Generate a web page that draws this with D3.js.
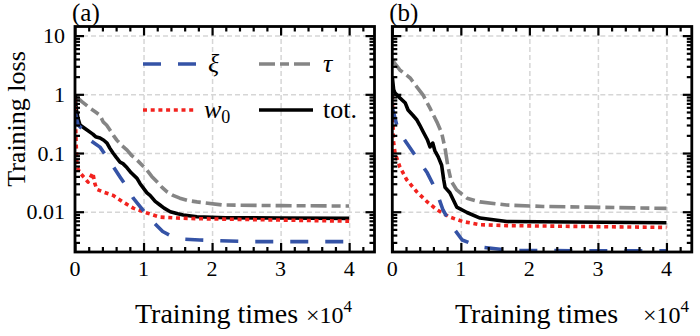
<!DOCTYPE html>
<html>
<head>
<meta charset="utf-8">
<script src="https://cdn.jsdelivr.net/npm/d3@7"></script>
<style>
    body { margin: 0; background: #fff; }
    svg { display: block; }
    text { font-family: "Liberation Serif", "Times New Roman", serif; fill: #000; }
</style>
</head>
<body>
<script>
    // x in units of 1e4 training times, y = training loss
    var xTicks = [0, 1, 2, 3, 4];
    var yTicks = [0.01, 0.1, 1, 10];
    var yTickLabels = ["0.01", "0.1", "1", "10"];

    // panel (a)
    var xiA = [[0, 0.5], [0.044, 0.3], [0.175, 0.22], [0.22, 0.166], [0.365, 0.126], [0.467, 0.085], [0.56, 0.058],
        [0.657, 0.039], [0.76, 0.026], [0.85, 0.017], [0.95, 0.0122], [1.07, 0.0082], [1.17, 0.0062], [1.28, 0.0046],
        [1.43, 0.0037], [1.6, 0.0034], [1.82, 0.0033], [2.5, 0.0031], [4, 0.0031]];
    var tauA = [[0, 0.95], [0.1, 0.75], [0.22, 0.58], [0.3, 0.5], [0.365, 0.44], [0.41, 0.34], [0.46, 0.3], [0.51, 0.246],
        [0.56, 0.2], [0.61, 0.166], [0.68, 0.135], [0.76, 0.112], [0.83, 0.09], [0.905, 0.076], [0.98, 0.062], [1.05, 0.051],
        [1.12, 0.04], [1.2, 0.032], [1.27, 0.026], [1.34, 0.022], [1.43, 0.019], [1.53, 0.017], [1.65, 0.0155],
        [1.78, 0.0147], [2.16, 0.013], [3, 0.0127], [4, 0.0125]];
    var w0A = [[0, 0.85], [0.008, 0.34], [0.015, 0.167], [0.03, 0.058], [0.073, 0.046], [0.19, 0.032], [0.26, 0.046],
        [0.29, 0.03], [0.32, 0.024], [0.41, 0.0217], [0.555, 0.019], [0.7, 0.0147], [0.85, 0.0115], [1.05, 0.0095],
        [1.24, 0.0081], [1.49, 0.0078], [1.78, 0.0076], [4, 0.0069]];
    var totA = [[0, 1.0], [0.02, 0.55], [0.044, 0.39], [0.073, 0.3], [0.15, 0.26], [0.26, 0.21], [0.3, 0.19], [0.365, 0.18],
        [0.42, 0.165], [0.467, 0.148], [0.51, 0.12], [0.555, 0.1], [0.6, 0.085], [0.657, 0.07], [0.7, 0.066], [0.76, 0.056],
        [0.82, 0.046], [0.905, 0.037], [0.95, 0.03], [0.99, 0.026], [1.05, 0.021], [1.095, 0.019], [1.17, 0.015],
        [1.24, 0.013], [1.3, 0.0115], [1.39, 0.01], [1.5, 0.0092], [1.58, 0.0088], [1.78, 0.0082], [2.2, 0.0079],
        [3, 0.0078], [4, 0.0077]];

    // panel (b)
    var xiB = [[0, 0.6], [0.083, 0.247], [0.21, 0.148], [0.36, 0.082], [0.51, 0.046], [0.59, 0.03], [0.65, 0.021],
        [0.74, 0.0107], [0.88, 0.0055], [1.02, 0.0033], [1.28, 0.0025], [1.76, 0.00218], [4, 0.00215]];
    var tauB = [[0, 3.84], [0.11, 2.6], [0.26, 1.9], [0.36, 1.33], [0.45, 0.97], [0.55, 0.58], [0.65, 0.34], [0.72, 0.22],
        [0.77, 0.12], [0.81, 0.06], [0.86, 0.033], [0.94, 0.0235], [1.09, 0.017], [1.28, 0.0147], [1.67, 0.013],
        [2.2, 0.0123], [4, 0.0114]];
    var w0B = [[0, 0.97], [0.01, 0.365], [0.015, 0.166], [0.04, 0.1], [0.11, 0.058], [0.21, 0.035], [0.36, 0.0217],
        [0.51, 0.0147], [0.65, 0.0108], [0.84, 0.0081], [1.03, 0.0068], [1.28, 0.006], [1.67, 0.0058], [4, 0.0054]];
    var totB = [[0, 1.97], [0.02, 1.2], [0.04, 1.05], [0.11, 0.87], [0.19, 0.71], [0.23, 0.54], [0.3, 0.44], [0.36, 0.365],
        [0.4, 0.3], [0.45, 0.23], [0.51, 0.17], [0.55, 0.127], [0.59, 0.148], [0.62, 0.11], [0.67, 0.086], [0.72, 0.062],
        [0.75, 0.035], [0.77, 0.026], [0.84, 0.021], [0.94, 0.012], [1.09, 0.0097], [1.28, 0.0078], [1.67, 0.0068],
        [4, 0.0065]];

    var styles = {
        xi: {color: "#3553a6", dash: "18,17"},
        tau: {color: "#858585", dash: "16,5,9,5"},
        w0: {color: "#f2231f", dash: "4,3.7"},
        tot: {color: "#000000", dash: null}
    };

    var svg = d3.select("body").append("svg")
        .attr("width", 700)
        .attr("height", 336);

    var plotTop = 26.5, plotBottom = 252, plotW = 299.5;

    var y = d3.scaleLog()
        .domain([0.00206, 14.3])
        .range([plotBottom, plotTop]);

    var minorY = [];
    [0.001, 0.01, 0.1, 1, 10].forEach(function(dec) {
        for (var k = 2; k <= 9; k++) {
            var v = dec * k;
            if (v > y.domain()[0] && v < y.domain()[1]) minorY.push(v);
        }
    });
    var minorX = d3.range(0, 4.37, 0.2).filter(function(v) { return Math.abs(v - Math.round(v)) > 1e-6; });

    function drawPanel(left, series, label, showYLabels, xLabelX, x10X) {
        var x = d3.scaleLinear()
            .domain([0, 4.37])
            .range([left, left + plotW]);

        var g = svg.append("g");
        var id = "clip" + label.replace(/\W/g, "");
        g.append("clipPath").attr("id", id)
            .append("rect")
            .attr("x", left).attr("y", plotTop)
            .attr("width", plotW).attr("height", plotBottom - plotTop);

        //grid
        var gx = g.append("g")
            .attr("transform", "translate(0," + plotBottom + ")")
            .call(d3.axisBottom(x).tickValues([1, 2, 3, 4]).tickSize(-(plotBottom - plotTop)).tickFormat(""));
        var gy = g.append("g")
            .attr("transform", "translate(" + left + ",0)")
            .call(d3.axisLeft(y).tickValues(yTicks).tickSize(-plotW).tickFormat(""));
        [gx, gy].forEach(function(a) {
            a.select(".domain").remove();
            a.selectAll("line")
                .attr("stroke", "#d6d6d6")
                .attr("stroke-width", 1.5)
                .attr("stroke-dasharray", "5,3");
        });

        //data
        var line = d3.line()
            .x(function(d) { return x(d[0]); })
            .y(function(d) { return y(d[1]); });

        var lines = g.append("g").attr("clip-path", "url(#" + id + ")");
        series.forEach(function(s) {
            lines.append("path")
                .attr("d", line(s.data))
                .attr("fill", "none")
                .attr("stroke", styles[s.key].color)
                .attr("stroke-width", 3.6)
                .attr("stroke-linejoin", "round")
                .attr("stroke-dasharray", styles[s.key].dash);
        });

        //ticks on all four sides, pointing inward
        var axes = [
            [d3.axisBottom(x), "translate(0," + plotBottom + ")", xTicks, minorX],
            [d3.axisTop(x), "translate(0," + plotTop + ")", xTicks, minorX],
            [d3.axisLeft(y), "translate(" + left + ",0)", yTicks, minorY],
            [d3.axisRight(y), "translate(" + (left + plotW) + ",0)", yTicks, minorY]
        ];
        axes.forEach(function(a) {
            var maj = g.append("g").attr("transform", a[1])
                .call(a[0].tickValues(a[2]).tickSize(-9).tickFormat(""));
            var mnr = g.append("g").attr("transform", a[1])
                .call(a[0].tickValues(a[3]).tickSize(-5).tickFormat(""));
            [maj, mnr].forEach(function(s) {
                s.select(".domain").remove();
                s.selectAll("line").attr("stroke", "#000").attr("stroke-width", 2.2);
            });
        });

        //frame
        g.append("rect")
            .attr("x", left).attr("y", plotTop)
            .attr("width", plotW).attr("height", plotBottom - plotTop)
            .attr("fill", "none")
            .attr("stroke", "#000")
            .attr("stroke-width", 2.8);

        //tick labels
        g.append("g").selectAll("text")
            .data(xTicks)
            .enter()
            .append("text")
            .attr("x", function(d) { return x(d); })
            .attr("y", 276)
            .attr("text-anchor", "middle")
            .style("font-size", "22px")
            .text(function(d) { return d; });

        if (showYLabels) {
            g.append("g").selectAll("text")
                .data(yTicks)
                .enter()
                .append("text")
                .attr("x", left - 10)
                .attr("y", function(d) { return y(d); })
                .attr("dy", "0.34em")
                .attr("text-anchor", "end")
                .style("font-size", "22px")
                .text(function(d, i) { return yTickLabels[i]; });
        }

        //x label
        g.append("text")
            .attr("x", xLabelX)
            .attr("y", 323)
            .style("font-size", "28px")
            .text("Training times");

        var t = g.append("text")
            .attr("x", x10X)
            .attr("y", 323)
            .style("font-size", "24px");
        t.append("tspan").text("\u00d710");
        t.append("tspan").attr("dy", -11).style("font-size", "17px").text("4");

        //panel label
        g.append("text")
            .attr("x", left - 3)
            .attr("y", 21)
            .style("font-size", "25px")
            .text(label);

        return {g: g, x: x};
    }

    drawPanel(75, [
        {key: "tau", data: tauA},
        {key: "tot", data: totA},
        {key: "w0", data: w0A},
        {key: "xi", data: xiA}
    ], "(a)", true, 135, 306);

    drawPanel(392.3, [
        {key: "tau", data: tauB},
        {key: "tot", data: totB},
        {key: "w0", data: w0B},
        {key: "xi", data: xiB}
    ], "(b)", false, 455, 643);

    //y label
    svg.append("text")
        .attr("transform", "translate(25,119) rotate(-90)")
        .attr("text-anchor", "middle")
        .style("font-size", "26px")
        .text("Training loss");

    //legend
    var legend = [
        {key: "xi", x: 143, y: 64, len: 55, name: "\u03be"},
        {key: "tau", x: 259, y: 64, len: 54, name: "\u03c4"},
        {key: "w0", x: 143, y: 110, len: 51, name: "w"},
        {key: "tot", x: 259, y: 110, len: 54, name: "tot."}
    ];
    var lg = svg.append("g");
    legend.forEach(function(l) {
        lg.append("line")
            .attr("x1", l.x).attr("x2", l.x + l.len)
            .attr("y1", l.y).attr("y2", l.y)
            .attr("stroke", styles[l.key].color)
            .attr("stroke-width", 3.6)
            .attr("stroke-dasharray", styles[l.key].dash);
        var t = lg.append("text")
            .attr("x", l.x + l.len + 10)
            .attr("y", l.y + 8)
            .style("font-size", "26px");
        if (l.key == "tot") {
            t.text(l.name);
        } else {
            t.append("tspan").style("font-style", "italic").text(l.name);
            if (l.key == "w0") {
                t.append("tspan").attr("dy", 5).style("font-size", "18px").text("0");
            }
        }
    });
</script>
</body>
</html>
